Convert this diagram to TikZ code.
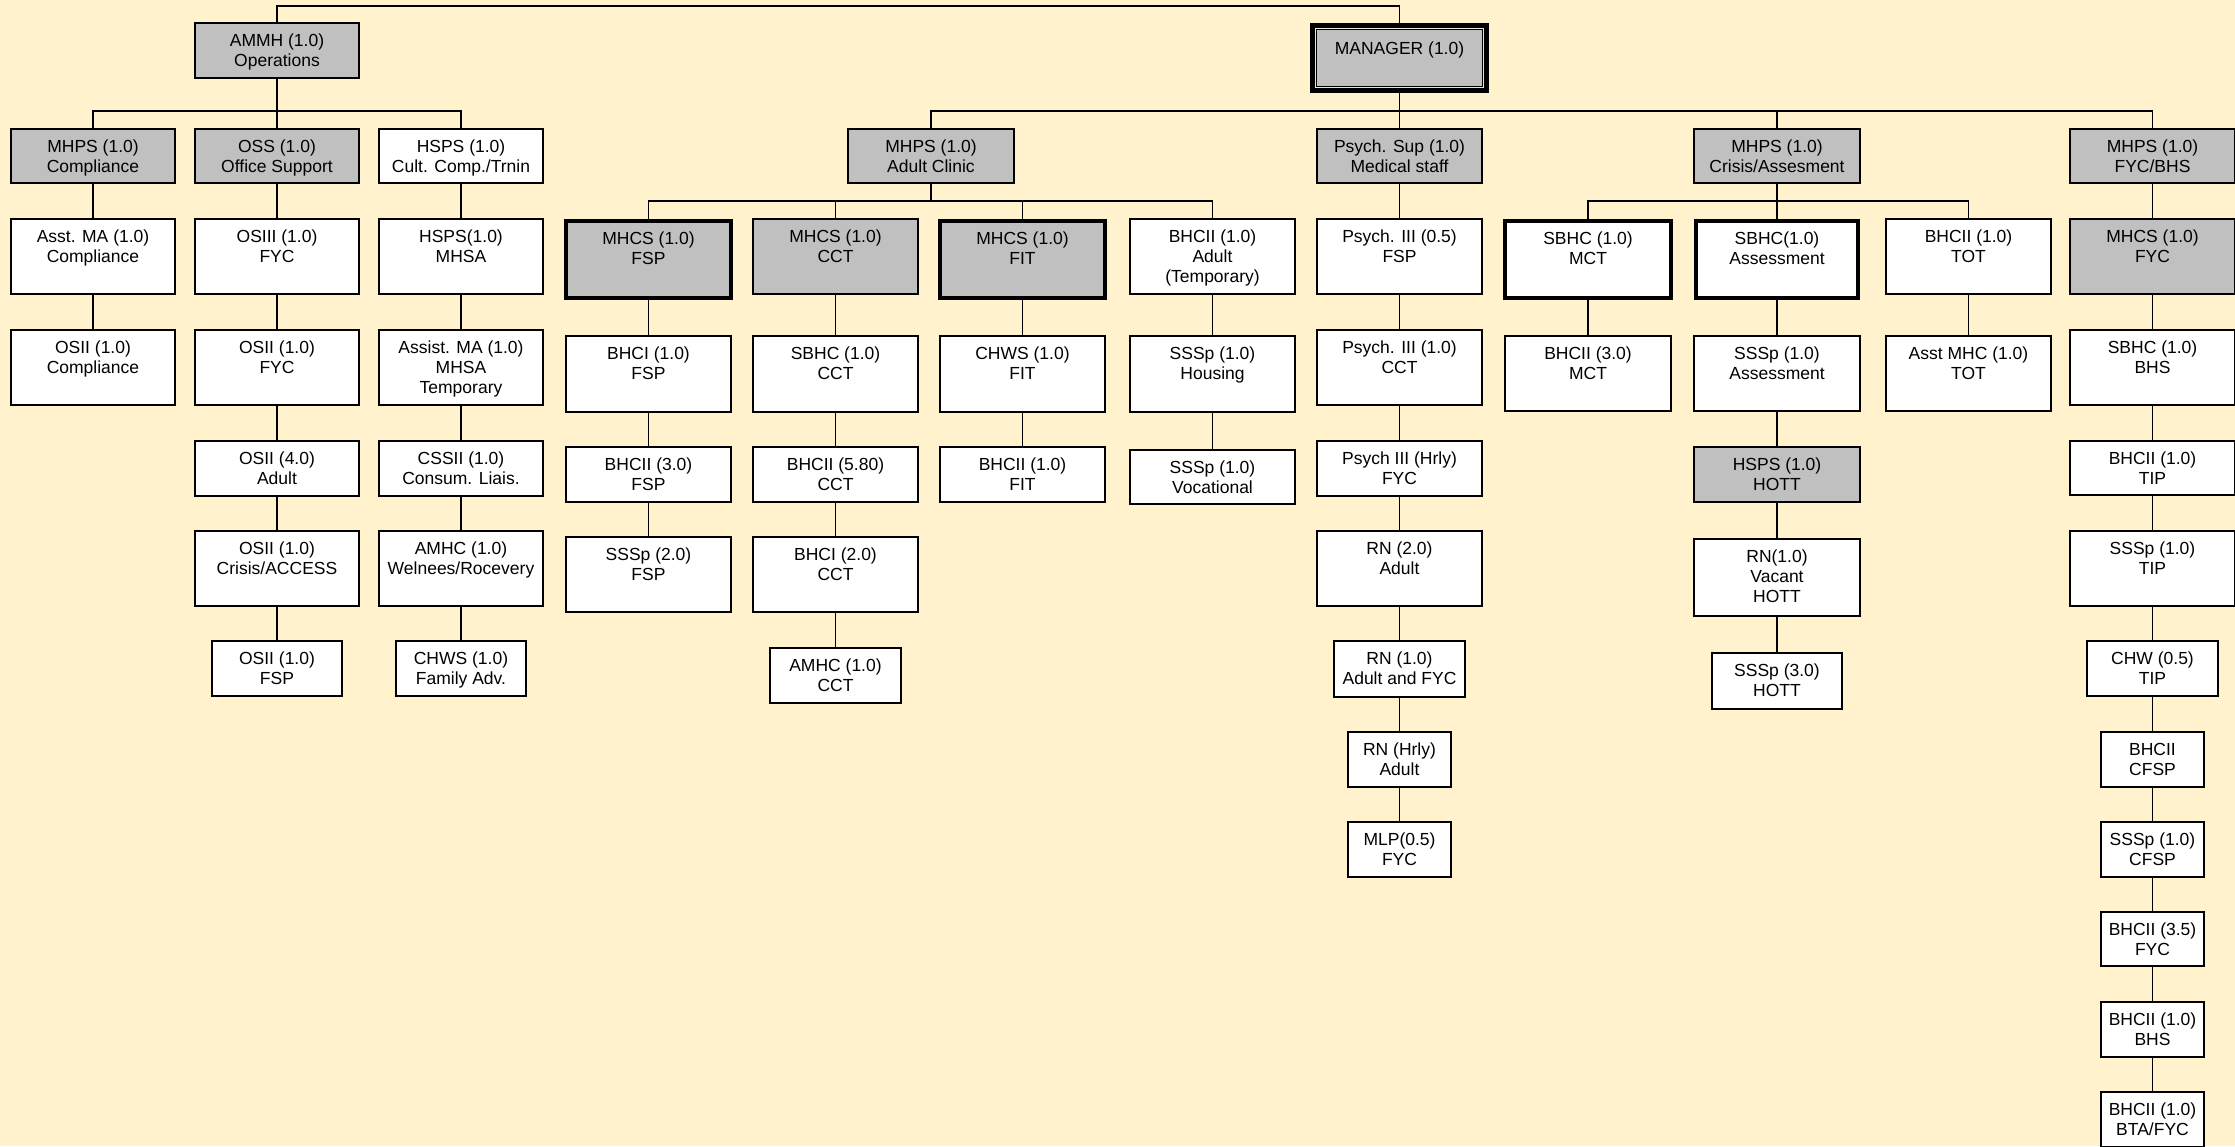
\documentclass[tikz,border=0pt]{standalone}
\usepackage{fontspec}
\setmainfont{Liberation Sans}
\definecolor{bg}{RGB}{255,242,204}
\definecolor{boxgray}{RGB}{192,192,192}
\tikzset{
  box/.style={draw=black, line width=1.7pt, fill=white, inner sep=0pt, outer sep=0pt},
  gbox/.style={box, fill=boxgray},
  tbox/.style={box, line width=4.5pt},
  tgbox/.style={tbox, fill=boxgray},
  lbl/.style={anchor=north, inner sep=0pt, align=center, font=\fontsize{17.5}{20}\selectfont},
  conn/.style={draw=black, line width=1.5pt},
}
\newcommand{\orgbox}[7]{%
  \node[#2, minimum width={(#5-#3)*1pt}, minimum height={(#6-#4)*1pt}] (#1) at ({(#3+#5)/2},{(#4+#6)/2}) {};
  \node[lbl] (#1t) at ({(#3+#5)/2},{#4+10.7}) {#7};
}
\begin{document}
\begin{tikzpicture}[x=1pt,y=-1pt]
\fill[bg] (0,0) rectangle (2235,1146);
\useasboundingbox (0,0) rectangle (2235,1146);
\coordinate (topbus) at (0,6);
\coordinate (busA) at (0,111);
\coordinate (busB) at (0,201);

% ---- left: operations
\orgbox{ammh}{gbox}{195}{23}{359}{78}{AMMH (1.0)\\Operations}
\orgbox{mhpsC}{gbox}{11}{129}{175}{183}{MHPS (1.0)\\Compliance}
\orgbox{oss}{gbox}{195}{129}{359}{183}{OSS (1.0)\\Office Support}
\orgbox{hspsC}{box}{379}{129}{543}{183}{HSPS (1.0)\\Cult. Comp./Trnin}
\orgbox{asstC}{box}{11}{219}{175}{294}{Asst. MA (1.0)\\Compliance}
\orgbox{osiiC}{box}{11}{330}{175}{405}{OSII (1.0)\\Compliance}
\orgbox{osiii}{box}{195}{219}{359}{294}{OSIII (1.0)\\FYC}
\orgbox{osiiF}{box}{195}{330}{359}{405}{OSII (1.0)\\FYC}
\orgbox{osiiA}{box}{195}{441}{359}{496}{OSII (4.0)\\Adult}
\orgbox{osiiCr}{box}{195}{531}{359}{606}{OSII (1.0)\\Crisis/ACCESS}
\orgbox{osiiFSP}{box}{212}{641}{342}{696}{OSII (1.0)\\FSP}
\orgbox{hspsM}{box}{379}{219}{543}{294}{HSPS(1.0)\\MHSA}
\orgbox{assistM}{box}{379}{330}{543}{405}{Assist. MA (1.0)\\MHSA\\Temporary}
\orgbox{cssii}{box}{379}{441}{543}{496}{CSSII (1.0)\\Consum. Liais.}
\orgbox{amhcW}{box}{379}{531}{543}{606}{AMHC (1.0)\\Welnees/Rocevery}
\orgbox{chwsF}{box}{396}{641}{526}{696}{CHWS (1.0)\\Family Adv.}

% ---- manager
\node[gbox, line width=5pt, minimum width=174pt, minimum height=65pt] (mgr) at (1399.5,58) {};
\draw[white!60!boxgray, line width=0.9pt] ([shift={(2.95,2.95)}]mgr.north west) rectangle ([shift={(-2.95,-2.95)}]mgr.south east);
\draw[black, line width=1.2pt] ([shift={(4,4)}]mgr.north west) rectangle ([shift={(-4,-4)}]mgr.south east);
\node[lbl] (mgrt) at (1399.5,41.5) {MANAGER (1.0)};

% ---- adult clinic
\orgbox{mhpsA}{gbox}{848}{129}{1014}{183}{MHPS (1.0)\\Adult Clinic}
\orgbox{mhcsF}{tgbox}{566}{221}{731}{298}{MHCS (1.0)\\FSP}
\orgbox{mhcsC}{gbox}{753}{219}{918}{294}{MHCS (1.0)\\CCT}
\orgbox{mhcsT}{tgbox}{940}{221}{1105}{298}{MHCS (1.0)\\FIT}
\orgbox{bhciiA}{box}{1130}{219}{1295}{294}{BHCII (1.0)\\Adult\\(Temporary)}
\orgbox{bhciF}{box}{566}{336}{731}{412}{BHCI (1.0)\\FSP}
\orgbox{bhciiF}{box}{566}{447}{731}{502}{BHCII (3.0)\\FSP}
\orgbox{ssspF}{box}{566}{537}{731}{612}{SSSp (2.0)\\FSP}
\orgbox{sbhcC}{box}{753}{336}{918}{412}{SBHC (1.0)\\CCT}
\orgbox{bhciiC}{box}{753}{447}{918}{502}{BHCII (5.80)\\CCT}
\orgbox{bhciC}{box}{753}{537}{918}{612}{BHCI (2.0)\\CCT}
\orgbox{amhcC}{box}{770}{648}{901}{703}{AMHC (1.0)\\CCT}
\orgbox{chwsT}{box}{940}{336}{1105}{412}{CHWS (1.0)\\FIT}
\orgbox{bhciiT}{box}{940}{447}{1105}{502}{BHCII (1.0)\\FIT}
\orgbox{ssspH}{box}{1130}{336}{1295}{412}{SSSp (1.0)\\Housing}
\orgbox{ssspV}{box}{1130}{450}{1295}{504}{SSSp (1.0)\\Vocational}

% ---- psych
\orgbox{psup}{gbox}{1317}{129}{1482}{183}{Psych. Sup (1.0)\\Medical staff}
\orgbox{pa}{box}{1317}{219}{1482}{294}{Psych. III (0.5)\\FSP}
\orgbox{pb}{box}{1317}{330}{1482}{405}{Psych. III (1.0)\\CCT}
\orgbox{pc}{box}{1317}{441}{1482}{496}{Psych III (Hrly)\\FYC}
\orgbox{rnb}{box}{1317}{531}{1482}{606}{RN (2.0)\\Adult}
\orgbox{rna}{box}{1334}{641}{1465}{697}{RN (1.0)\\Adult and FYC}
\orgbox{rnh}{box}{1348}{732}{1451}{787}{RN (Hrly)\\Adult}
\orgbox{mlp}{box}{1348}{822}{1451}{877}{MLP(0.5)\\FYC}

% ---- crisis
\orgbox{mhpsCr}{gbox}{1694}{129}{1860}{183}{MHPS (1.0)\\Crisis/Assesment}
\orgbox{sbhcM}{tbox}{1505}{221}{1671}{298}{SBHC (1.0)\\MCT}
\orgbox{sbhcA}{tbox}{1696}{221}{1858}{298}{SBHC(1.0)\\Assessment}
\orgbox{bhciiTOT}{box}{1886}{219}{2051}{294}{BHCII (1.0)\\TOT}
\orgbox{bhciiM}{box}{1505}{336}{1671}{411}{BHCII (3.0)\\MCT}
\orgbox{ssspA}{box}{1694}{336}{1860}{411}{SSSp (1.0)\\Assessment}
\orgbox{hspsH}{gbox}{1694}{447}{1860}{502}{HSPS (1.0)\\HOTT}
\orgbox{rnV}{box}{1694}{539}{1860}{616}{RN(1.0)\\Vacant\\HOTT}
\orgbox{ssspHO}{box}{1712}{653}{1842}{709}{SSSp (3.0)\\HOTT}
\orgbox{asstMHC}{box}{1886}{336}{2051}{411}{Asst MHC (1.0)\\TOT}

% ---- FYC/BHS
\orgbox{mhpsFYC}{gbox}{2070}{129}{2235}{183}{MHPS (1.0)\\FYC/BHS}
\orgbox{mhcsFYC}{gbox}{2070}{219}{2235}{294}{MHCS (1.0)\\FYC}
\orgbox{sbhcB}{box}{2070}{330}{2235}{405}{SBHC (1.0)\\BHS}
\orgbox{bhciiTIP}{box}{2070}{441}{2235}{495}{BHCII (1.0)\\TIP}
\orgbox{ssspTIP}{box}{2070}{531}{2235}{606}{SSSp (1.0)\\TIP}
\orgbox{chwTIP}{box}{2087}{641}{2218}{696}{CHW (0.5)\\TIP}
\orgbox{bhciiCF}{box}{2101}{732}{2204}{787}{BHCII\\CFSP}
\orgbox{ssspCF}{box}{2101}{822}{2204}{877}{SSSp (1.0)\\CFSP}
\orgbox{bhciiFYC}{box}{2101}{912}{2204}{966}{BHCII (3.5)\\FYC}
\orgbox{bhciiBHS}{box}{2101}{1002}{2204}{1057}{BHCII (1.0)\\BHS}
\orgbox{bhciiBTA}{box}{2101}{1092}{2204}{1147}{BHCII (1.0)\\BTA/FYC}

% ---- connectors
\draw[conn] (mgr.north) -- (mgr.north |- topbus) -| (ammh.north);
\foreach \c in {mhpsC,oss,hspsC}
  \draw[conn] (ammh.south) -- (ammh.south |- busA) -| (\c.north);
\foreach \c in {mhpsA,psup,mhpsCr,mhpsFYC}
  \draw[conn] (mgr.south) -- (mgr.south |- busA) -| (\c.north);
\foreach \c in {mhcsF,mhcsC,mhcsT,bhciiA}
  \draw[conn] (mhpsA.south) -- (mhpsA.south |- busB) -| (\c.north);
\foreach \c in {sbhcM,sbhcA,bhciiTOT}
  \draw[conn] (mhpsCr.south) -- (mhpsCr.south |- busB) -| (\c.north);
\foreach \a/\b in {mhpsC/asstC, asstC/osiiC,
  oss/osiii, osiii/osiiF, osiiF/osiiA, osiiA/osiiCr, osiiCr/osiiFSP,
  hspsC/hspsM, hspsM/assistM, assistM/cssii, cssii/amhcW, amhcW/chwsF,
  mhcsF/bhciF, bhciF/bhciiF, bhciiF/ssspF,
  mhcsC/sbhcC, sbhcC/bhciiC, bhciiC/bhciC, bhciC/amhcC,
  mhcsT/chwsT, chwsT/bhciiT,
  bhciiA/ssspH, ssspH/ssspV,
  psup/pa, pa/pb, pb/pc, pc/rnb, rnb/rna, rna/rnh, rnh/mlp,
  sbhcM/bhciiM,
  sbhcA/ssspA, ssspA/hspsH, hspsH/rnV, rnV/ssspHO,
  bhciiTOT/asstMHC,
  mhpsFYC/mhcsFYC, mhcsFYC/sbhcB, sbhcB/bhciiTIP, bhciiTIP/ssspTIP, ssspTIP/chwTIP,
  chwTIP/bhciiCF, bhciiCF/ssspCF, ssspCF/bhciiFYC, bhciiFYC/bhciiBHS, bhciiBHS/bhciiBTA}
  \draw[conn] (\a.south) -- (\a.south |- \b.north);
\end{tikzpicture}
\end{document}
